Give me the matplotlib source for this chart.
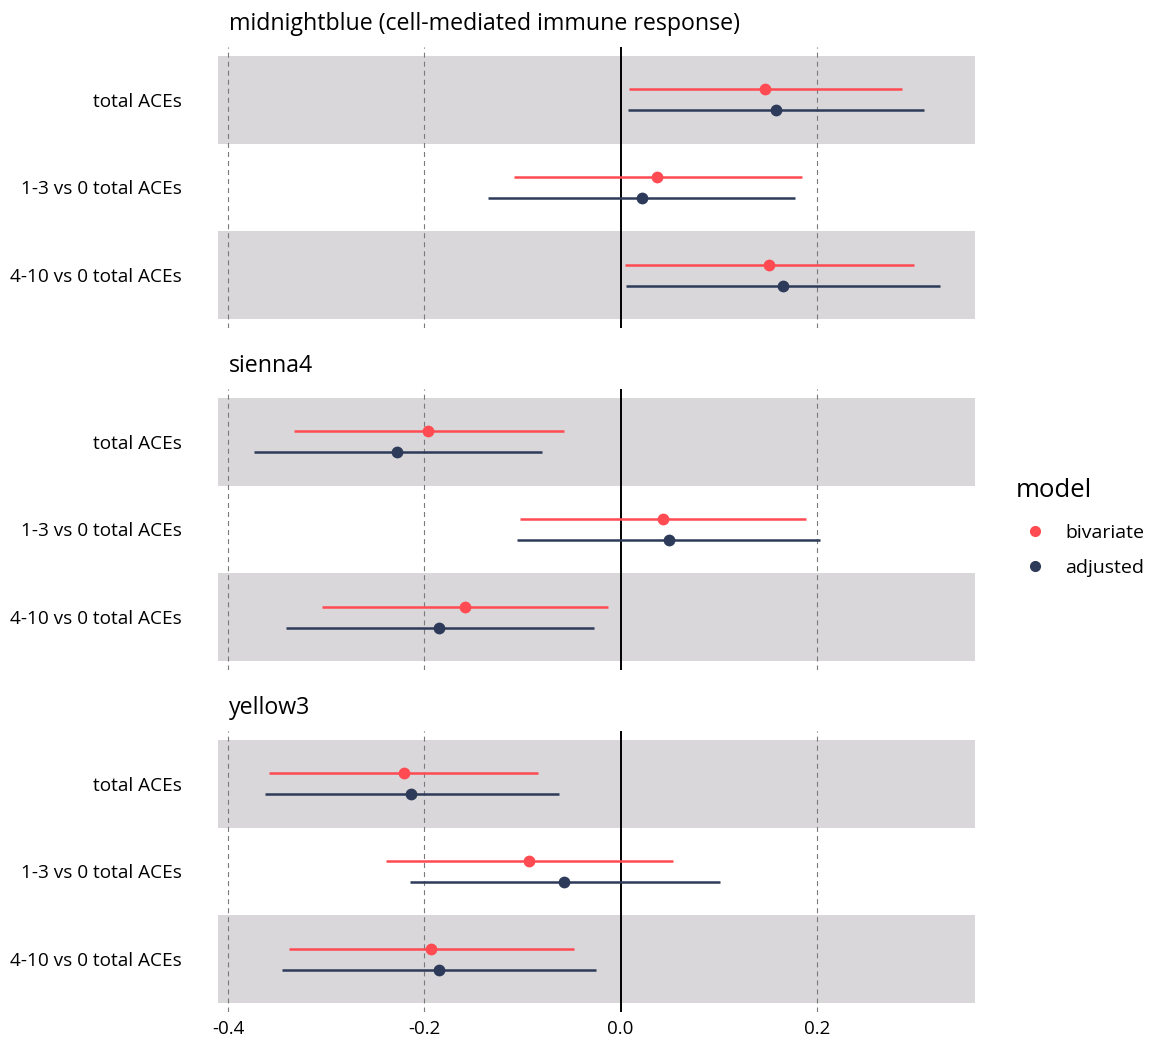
import matplotlib
matplotlib.use("Agg")
import matplotlib.pyplot as plt
from matplotlib.lines import Line2D

plt.rcParams['font.family'] = ['Open Sans', 'DejaVu Sans']
plt.rcParams['lines.scale_dashes'] = False

# ---------------- data ----------------
modules = ["midnightblue (cell-mediated immune response)", "sienna4", "yellow3"]
terms = ["total ACEs", "1-3 vs 0 total ACEs", "4-10 vs 0 total ACEs"]
models = ["bivariate", "adjusted"]

# estimates per module (rows follow `terms`)
biv_est = [[0.147, 0.037, 0.151], [-0.196, 0.043, -0.159], [-0.221, -0.093, -0.193]]
biv_lo = [[0.009, -0.109, 0.005], [-0.333, -0.103, -0.304], [-0.358, -0.239, -0.338]]
biv_hi = [[0.287, 0.185, 0.299], [-0.058, 0.189, -0.013], [-0.084, 0.053, -0.047]]

adj_est = [[0.158, 0.022, 0.166], [-0.228, 0.049, -0.185], [-0.214, -0.058, -0.185]]
adj_lo = [[0.008, -0.135, 0.006], [-0.374, -0.106, -0.341], [-0.363, -0.215, -0.345]]
adj_hi = [[0.309, 0.178, 0.326], [-0.080, 0.203, -0.027], [-0.063, 0.101, -0.025]]

xticks = [-0.4, -0.2, 0.0, 0.2]
xticklabels = ["-0.4", "-0.2", "0.0", "0.2"]

# ---------------- style ----------------
RED = "#FF4B51"
NAVY = "#2D3A59"
BAND = "#D9D7D9"
colors = {"bivariate": RED, "adjusted": NAVY}
offsets = {"bivariate": -0.12, "adjusted": 0.12}

W, H = 1151, 1044
fig = plt.figure(figsize=(W / 100, H / 100), dpi=100)

left_px, right_px = 218, 975
ax_h_px = 280.5
tops = [47.2, 389.2, 731.2]

series = {
    "bivariate": (biv_est, biv_lo, biv_hi),
    "adjusted": (adj_est, adj_lo, adj_hi),
}

for i, mod in enumerate(modules):
    top = tops[i]
    ax = fig.add_axes([left_px / W, 1 - (top + ax_h_px) / H,
                       (right_px - left_px) / W, ax_h_px / H])
    ax.set_xlim(-0.4105, 0.3614)
    ax.set_ylim(3.6, 0.4)
    for b in (1, 3):
        ax.axhspan(b - 0.5, b + 0.5, color=BAND, lw=0, zorder=0)
    for xt in xticks:
        if xt == 0.0:
            ax.axvline(0, color="black", lw=1.4, zorder=1)
        else:
            ax.axvline(xt, color="#7a7a7a", lw=0.8, dashes=(3.6, 2.9), zorder=1)
    for m in models:
        est, lo, hi = series[m]
        ys = [r + 1 + offsets[m] for r in range(len(terms))]
        ax.hlines(ys, lo[i], hi[i], color=colors[m], lw=1.8, zorder=3)
        ax.scatter(est[i], ys, s=72, color=colors[m], zorder=4, linewidths=0)
    ax.set_yticks([1, 2, 3])
    ax.set_yticklabels(terms, fontsize=13.7)
    ax.tick_params(axis="y", length=0, pad=26)
    ax.set_xticks(xticks)
    if i == len(modules) - 1:
        ax.set_xticklabels(xticklabels, fontsize=13.5)
        ax.tick_params(axis="x", length=0, pad=6)
    else:
        ax.set_xticklabels([])
        ax.tick_params(axis="x", length=0)
    for s in ax.spines.values():
        s.set_visible(False)
    fig.text(229 / W, 1 - (tops[i] - 23) / H, mod, fontsize=16.7, ha="left", va="center")

handles = [Line2D([], [], marker="o", ls="", color=colors[m], markersize=7) for m in models]
leg = fig.legend(handles, models, title="model", loc="upper left",
                 bbox_to_anchor=(1008 / W, 1 - 470 / H), frameon=False,
                 fontsize=14, title_fontsize=18.5, handletextpad=0.55,
                 labelspacing=0.9, borderaxespad=0)
leg._legend_box.align = "left"
leg._legend_box.sep = 15

fig.savefig("out.png", dpi=100)
